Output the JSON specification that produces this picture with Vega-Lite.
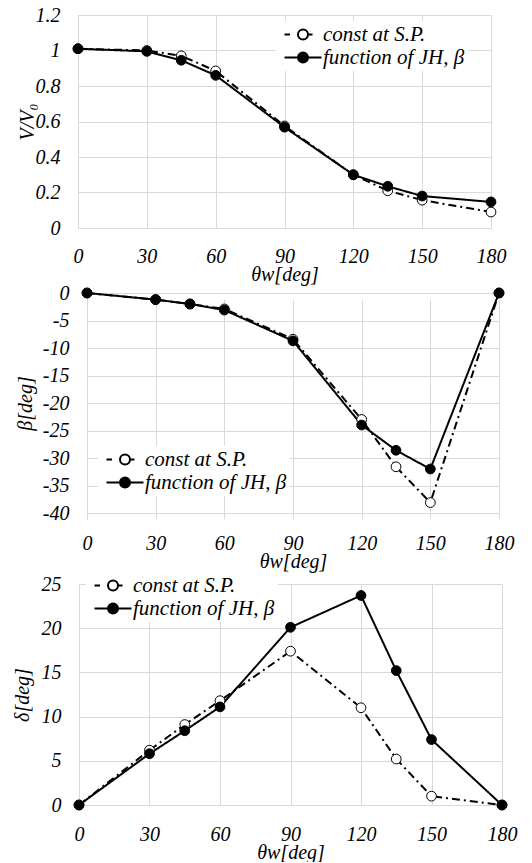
{
  "$schema": "https://vega.github.io/schema/vega-lite/v6.json",
  "background": "white",
  "padding": {"left": 12, "top": 5, "right": 0, "bottom": 0},
  "spacing": 65,
  "bounds": "flush",
  "datasets": {
    "V": [
      {"theta": 0, "value": 1.01, "series": "const at S.P."},
      {"theta": 30, "value": 1.0, "series": "const at S.P."},
      {"theta": 45, "value": 0.97, "series": "const at S.P."},
      {"theta": 60, "value": 0.885, "series": "const at S.P."},
      {"theta": 90, "value": 0.575, "series": "const at S.P."},
      {"theta": 120, "value": 0.3, "series": "const at S.P."},
      {"theta": 135, "value": 0.21, "series": "const at S.P."},
      {"theta": 150, "value": 0.157, "series": "const at S.P."},
      {"theta": 180, "value": 0.09, "series": "const at S.P."},
      {"theta": 0, "value": 1.01, "series": "function of JH, β"},
      {"theta": 30, "value": 0.995, "series": "function of JH, β"},
      {"theta": 45, "value": 0.945, "series": "function of JH, β"},
      {"theta": 60, "value": 0.86, "series": "function of JH, β"},
      {"theta": 90, "value": 0.568, "series": "function of JH, β"},
      {"theta": 120, "value": 0.3, "series": "function of JH, β"},
      {"theta": 135, "value": 0.235, "series": "function of JH, β"},
      {"theta": 150, "value": 0.18, "series": "function of JH, β"},
      {"theta": 180, "value": 0.147, "series": "function of JH, β"}
    ],
    "B": [
      {"theta": 0, "value": 0, "series": "const at S.P."},
      {"theta": 30, "value": -1.2, "series": "const at S.P."},
      {"theta": 45, "value": -2.0, "series": "const at S.P."},
      {"theta": 60, "value": -2.9, "series": "const at S.P."},
      {"theta": 90, "value": -8.4, "series": "const at S.P."},
      {"theta": 120, "value": -23.0, "series": "const at S.P."},
      {"theta": 135, "value": -31.6, "series": "const at S.P."},
      {"theta": 150, "value": -38.1, "series": "const at S.P."},
      {"theta": 180, "value": 0, "series": "const at S.P."},
      {"theta": 0, "value": 0, "series": "function of JH, β"},
      {"theta": 30, "value": -1.2, "series": "function of JH, β"},
      {"theta": 45, "value": -2.0, "series": "function of JH, β"},
      {"theta": 60, "value": -3.1, "series": "function of JH, β"},
      {"theta": 90, "value": -8.7, "series": "function of JH, β"},
      {"theta": 120, "value": -24.0, "series": "function of JH, β"},
      {"theta": 135, "value": -28.6, "series": "function of JH, β"},
      {"theta": 150, "value": -32.0, "series": "function of JH, β"},
      {"theta": 180, "value": 0, "series": "function of JH, β"}
    ],
    "D": [
      {"theta": 0, "value": 0, "series": "const at S.P."},
      {"theta": 30, "value": 6.2, "series": "const at S.P."},
      {"theta": 45, "value": 9.1, "series": "const at S.P."},
      {"theta": 60, "value": 11.8, "series": "const at S.P."},
      {"theta": 90, "value": 17.4, "series": "const at S.P."},
      {"theta": 120, "value": 11.0, "series": "const at S.P."},
      {"theta": 135, "value": 5.2, "series": "const at S.P."},
      {"theta": 150, "value": 1.0, "series": "const at S.P."},
      {"theta": 180, "value": 0, "series": "const at S.P."},
      {"theta": 0, "value": 0, "series": "function of JH, β"},
      {"theta": 30, "value": 5.8, "series": "function of JH, β"},
      {"theta": 45, "value": 8.4, "series": "function of JH, β"},
      {"theta": 60, "value": 11.1, "series": "function of JH, β"},
      {"theta": 90, "value": 20.1, "series": "function of JH, β"},
      {"theta": 120, "value": 23.7, "series": "function of JH, β"},
      {"theta": 135, "value": 15.2, "series": "function of JH, β"},
      {"theta": 150, "value": 7.4, "series": "function of JH, β"},
      {"theta": 180, "value": 0, "series": "function of JH, β"}
    ]
  },
  "resolve": {"scale": {"fill": "independent", "shape": "independent", "stroke": "independent"}, "legend": {"fill": "independent", "shape": "independent", "stroke": "independent"}},
  "vconcat": [
    {
      "width": 413, "height": 213,
      "data": {"name": "V"},
      "encoding": {
        "x": {"field": "theta", "type": "quantitative", "scale": {"domain": [0, 180], "nice": false}, "axis": {"values": [0, 30, 60, 90, 120, 150, 180], "title": "θw[deg]", "labelPadding": 18}},
        "y": {"field": "value", "type": "quantitative", "scale": {"domain": [0, 1.2], "nice": false}, "axis": {"values": [0, 0.2, 0.4, 0.6, 0.8, 1, 1.2], "format": "~g", "title": "V/V₀", "titlePadding": -2}}
      },
      "layer": [
        {
          "mark": {"type": "line", "color": "black", "strokeWidth": 2},
          "encoding": {"detail": {"field": "series"}, "strokeDash": {"condition": {"test": "datum.series === 'const at S.P.'", "value": [8, 4, 2, 4]}, "value": [1, 0]}}
        },
        {
          "mark": {"type": "point", "shape": "circle", "size": 95, "stroke": "black", "strokeWidth": 1, "opacity": 1},
          "encoding": {"fill": {"field": "series", "type": "nominal", "scale": {"domain": ["const at S.P.", "function of JH, β"], "range": ["white", "black"]}, "legend": {"orient": "none", "legendX": 198, "legendY": 6}}}
        },
        {
          "mark": {"type": "point", "size": 100, "strokeWidth": 2, "opacity": 0},
          "encoding": {
            "fill": {"field": "series", "type": "nominal", "scale": {"domain": ["const at S.P.", "function of JH, β"], "range": ["white", "black"]}, "legend": {"orient": "none", "legendX": 198, "legendY": 6}},
            "stroke": {"field": "series", "type": "nominal", "scale": {"domain": ["const at S.P.", "function of JH, β"], "range": ["black", "black"]}, "legend": {"orient": "none", "legendX": 198, "legendY": 6}},
            "shape": {"field": "series", "type": "nominal", "scale": {"domain": ["const at S.P.", "function of JH, β"], "range": ["M-1,0H0.1M1.7,0A1,1 0 1,0 3.7,0A1,1 0 1,0 1.7,0M3.7,0H4.6", "M-1,0H1.7M3.7,0H6.4M1.7,0A1,1 0 1,0 3.7,0A1,1 0 1,0 1.7,0"]}, "legend": {"orient": "none", "legendX": 198, "legendY": 6}}
          }
        }
      ]
    },
    {
      "width": 421, "height": 226,
      "data": {"name": "B"},
      "encoding": {
        "x": {"field": "theta", "type": "quantitative", "scale": {"domain": [0, 180], "nice": false, "range": [9, 421]}, "axis": {"values": [0, 30, 60, 90, 120, 150, 180], "title": "θw[deg]", "offset": -6, "labelPadding": 20}},
        "y": {"field": "value", "type": "quantitative", "scale": {"domain": [-40, 0], "nice": false, "range": [220, 0]}, "axis": {"values": [-40, -35, -30, -25, -20, -15, -10, -5, 0], "labelExpr": "'' + datum.value", "title": "β[deg]", "titlePadding": 7, "offset": -9}}
      },
      "layer": [
        {
          "mark": {"type": "line", "color": "black", "strokeWidth": 2},
          "encoding": {"detail": {"field": "series"}, "strokeDash": {"condition": {"test": "datum.series === 'const at S.P.'", "value": [8, 4, 2, 4]}, "value": [1, 0]}}
        },
        {
          "mark": {"type": "point", "shape": "circle", "size": 95, "stroke": "black", "strokeWidth": 1, "opacity": 1},
          "encoding": {"fill": {"field": "series", "type": "nominal", "scale": {"domain": ["const at S.P.", "function of JH, β"], "range": ["white", "black"]}, "legend": {"orient": "none", "legendX": 20, "legendY": 153}}}
        },
        {
          "mark": {"type": "point", "size": 100, "strokeWidth": 2, "opacity": 0},
          "encoding": {
            "fill": {"field": "series", "type": "nominal", "scale": {"domain": ["const at S.P.", "function of JH, β"], "range": ["white", "black"]}, "legend": {"orient": "none", "legendX": 20, "legendY": 153}},
            "stroke": {"field": "series", "type": "nominal", "scale": {"domain": ["const at S.P.", "function of JH, β"], "range": ["black", "black"]}, "legend": {"orient": "none", "legendX": 20, "legendY": 153}},
            "shape": {"field": "series", "type": "nominal", "scale": {"domain": ["const at S.P.", "function of JH, β"], "range": ["M-1,0H0.1M1.7,0A1,1 0 1,0 3.7,0A1,1 0 1,0 1.7,0M3.7,0H4.6", "M-1,0H1.7M3.7,0H6.4M1.7,0A1,1 0 1,0 3.7,0A1,1 0 1,0 1.7,0"]}, "legend": {"orient": "none", "legendX": 20, "legendY": 153}}
          }
        }
      ]
    },
    {
      "width": 424, "height": 221,
      "data": {"name": "D"},
      "encoding": {
        "x": {"field": "theta", "type": "quantitative", "scale": {"domain": [0, 180], "nice": false, "range": [1, 424]}, "axis": {"values": [0, 30, 60, 90, 120, 150, 180], "title": "θw[deg]", "labelPadding": 19}},
        "y": {"field": "value", "type": "quantitative", "scale": {"domain": [0, 25], "nice": false}, "axis": {"values": [0, 5, 10, 15, 20, 25], "title": "δ[deg]", "titlePadding": 9, "offset": -1}}
      },
      "layer": [
        {
          "mark": {"type": "line", "color": "black", "strokeWidth": 2},
          "encoding": {"detail": {"field": "series"}, "strokeDash": {"condition": {"test": "datum.series === 'const at S.P.'", "value": [8, 4, 2, 4]}, "value": [1, 0]}}
        },
        {
          "mark": {"type": "point", "shape": "circle", "size": 95, "stroke": "black", "strokeWidth": 1, "opacity": 1},
          "encoding": {"fill": {"field": "series", "type": "nominal", "scale": {"domain": ["const at S.P.", "function of JH, β"], "range": ["white", "black"]}, "legend": {"orient": "none", "legendX": 8, "legendY": -12}}}
        },
        {
          "mark": {"type": "point", "size": 100, "strokeWidth": 2, "opacity": 0},
          "encoding": {
            "fill": {"field": "series", "type": "nominal", "scale": {"domain": ["const at S.P.", "function of JH, β"], "range": ["white", "black"]}, "legend": {"orient": "none", "legendX": 8, "legendY": -12}},
            "stroke": {"field": "series", "type": "nominal", "scale": {"domain": ["const at S.P.", "function of JH, β"], "range": ["black", "black"]}, "legend": {"orient": "none", "legendX": 8, "legendY": -12}},
            "shape": {"field": "series", "type": "nominal", "scale": {"domain": ["const at S.P.", "function of JH, β"], "range": ["M-1,0H0.1M1.7,0A1,1 0 1,0 3.7,0A1,1 0 1,0 1.7,0M3.7,0H4.6", "M-1,0H1.7M3.7,0H6.4M1.7,0A1,1 0 1,0 3.7,0A1,1 0 1,0 1.7,0"]}, "legend": {"orient": "none", "legendX": 8, "legendY": -12}}
          }
        }
      ]
    }
  ],
  "config": {
    "font": "Liberation Serif",
    "view": {"stroke": null},
    "axis": {
      "labelFont": "Liberation Serif", "labelFontStyle": "italic", "labelFontSize": 20, "labelColor": "black",
      "titleFont": "Liberation Serif", "titleFontStyle": "italic", "titleFontWeight": "normal", "titleFontSize": 20, "titleColor": "black",
      "ticks": false, "grid": true, "gridColor": "#d9d9d9", "gridWidth": 1, "domainColor": "#d9d9d9", "domainWidth": 1,
      "labelPadding": 18, "labelFlush": false, "labelOverlap": false
    },
    "axisX": {"titlePadding": -2},
    "legend": {
      "title": null, "labelFont": "Liberation Serif", "labelFontStyle": "italic", "labelFontSize": 21, "labelColor": "black",
      "labelOffset": 23, "rowPadding": 1, "padding": 3, "fillColor": "white", "symbolSize": 100, "symbolStrokeColor": "black", "symbolStrokeWidth": 2, "symbolOpacity": 1
    }
  }
}
